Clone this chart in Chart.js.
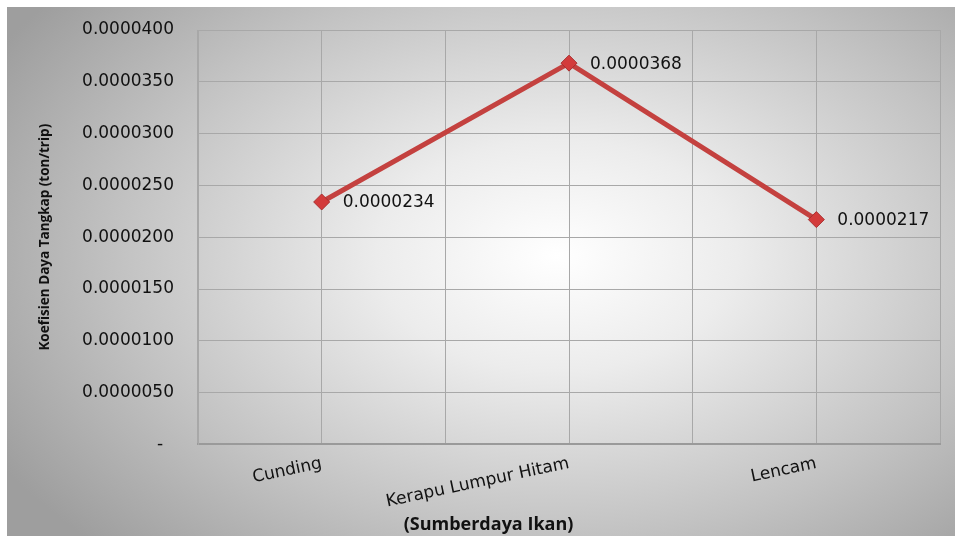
<!DOCTYPE html>
<html>
<head>
    <title>Koefisien Daya Tangkap</title>
    <script src="https://cdn.jsdelivr.net/npm/chart.js"></script>
    <style>
        body { margin: 0; background: #ffffff; }
        #wrap {
            position: absolute;
            left: 7px;
            top: 7px;
            width: 948px;
            height: 529px;
            background: radial-gradient(ellipse 68% 78% at 58% 47%, #ffffff 0%, #ececec 28%, #c2c2c2 68%, #9e9e9e 100%);
        }
    </style>
</head>
<body>
    <div id="wrap"><canvas id="chart"></canvas></div>

    <script>
        const categories = ['Cunding', 'Kerapu Lumpur Hitam', 'Lencam'];
        const values = [0.0000234, 0.0000368, 0.0000217];
        const yMax = 0.00004;
        const yStep = 0.000005;

        const fontFace = "'DejaVu Sans', Verdana, sans-serif";
        const boldFace = "'Open Sans', sans-serif";

        // value labels next to each marker
        const pointLabels = {
            id: 'pointLabels',
            afterDatasetsDraw(chart) {
                const ctx = chart.ctx;
                const meta = chart.getDatasetMeta(0);
                ctx.save();
                ctx.font = '17px ' + fontFace;
                ctx.fillStyle = '#111111';
                ctx.textAlign = 'left';
                ctx.textBaseline = 'middle';
                meta.data.forEach((pt, i) => {
                    ctx.fillText(values[i].toFixed(7), pt.x + 21, pt.y + 1);
                });
                ctx.restore();
            }
        };

        const ctx = document.getElementById('chart').getContext('2d');
        new Chart(ctx, {
            type: 'line',
            data: {
                labels: categories,
                datasets: [{
                    data: values,
                    borderColor: '#c4413f',
                    borderWidth: 5,
                    pointStyle: 'rectRot',
                    pointRadius: 8,
                    pointBackgroundColor: '#d33b3b',
                    pointBorderColor: '#a92e2e',
                    pointBorderWidth: 1,
                    tension: 0
                }]
            },
            options: {
                responsive: true,
                maintainAspectRatio: false,
                animation: false,
                layout: { padding: { top: 23, right: 15, left: 30, bottom: 0 } },
                plugins: {
                    legend: { display: false },
                    tooltip: { enabled: false },
                    title: {
                        display: true,
                        position: 'bottom',
                        text: '(Sumberdaya Ikan)',
                        color: '#111111',
                        font: { family: boldFace, size: 18, weight: 'bold' },
                        padding: { top: 4, bottom: 0 }
                    }
                },
                scales: {
                    x: {
                        offset: true,
                        grid: { offset: false, color: '#a8a8a8', drawTicks: false },
                        border: { color: '#9a9a9a', width: 2 },
                        ticks: {
                            color: '#111111',
                            font: { family: fontFace, size: 17 },
                            minRotation: 12,
                            maxRotation: 12,
                            padding: 9
                        },
                        afterFit(scale) { scale.height = 66; }
                    },
                    x2: {
                        position: 'bottom',
                        offset: true,
                        display: true,
                        grid: { offset: true, color: '#a8a8a8', drawTicks: false },
                        border: { display: false },
                        ticks: { display: false },
                        afterFit(scale) { scale.height = 0; }
                    },
                    y: {
                        min: 0,
                        max: yMax,
                        ticks: {
                            stepSize: yStep,
                            color: '#111111',
                            font: { family: fontFace, size: 17 },
                            padding: 4,
                            callback: v => v === 0 ? '-  ' : v.toFixed(7)
                        },
                        grid: { color: '#a8a8a8', drawTicks: true, tickLength: 20, tickColor: 'rgba(0,0,0,0)' },
                        border: { color: '#a8a8a8' },
                        title: {
                            display: true,
                            text: 'Koefisien Daya Tangkap (ton/trip)',
                            color: '#111111',
                            font: { family: boldFace, size: 13.5, weight: 'bold' },
                            padding: { top: 0, bottom: 4 }
                        },
                        afterFit(scale) { scale.width = 161; }
                    }
                }
            },
            plugins: [pointLabels]
        });
    </script>
</body>
</html>
